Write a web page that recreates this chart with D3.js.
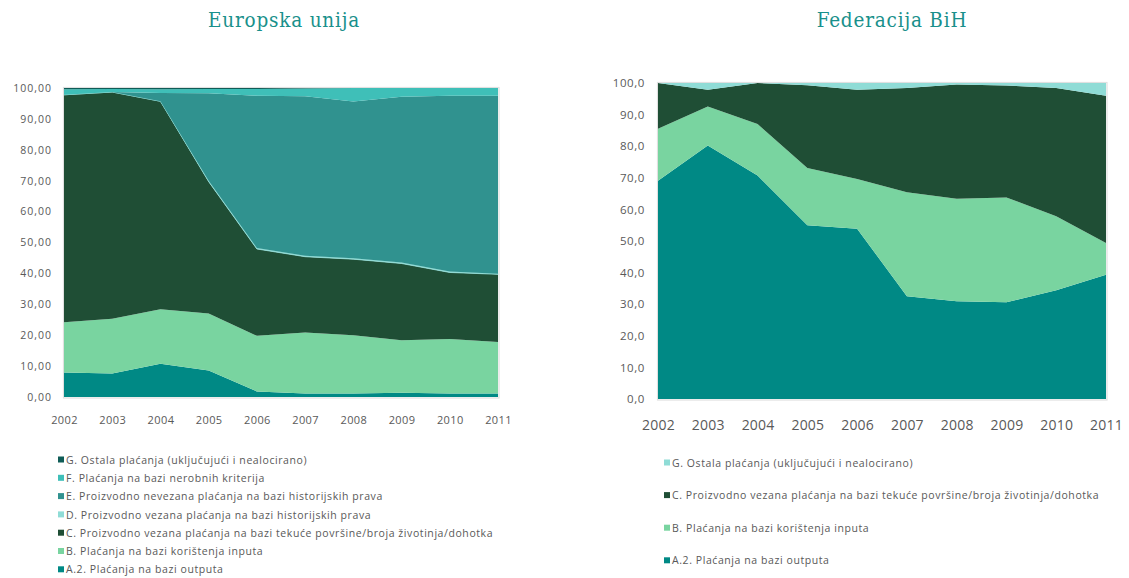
<!DOCTYPE html>
<html>
<head>
<meta charset="utf-8">
<script src="https://cdn.jsdelivr.net/npm/d3@7"></script>
<style>
  body { margin: 0; background: #ffffff; }
  .title { font-family: "DejaVu Serif Condensed", "DejaVu Serif", serif; font-stretch: condensed; font-size: 20.5px; letter-spacing: 0.8px; fill: #19908b; }
  .tick text { font-family: "Open Sans", sans-serif; fill: #595959; }
  .legend { font-family: "Open Sans", sans-serif; font-size: 10.5px; fill: #595959; }
</style>
</head>
<body>
<div id="vis"></div>
<script>
const frame_width = 1129;
const frame_height = 578;

const years = [2002, 2003, 2004, 2005, 2006, 2007, 2008, 2009, 2010, 2011];

// Europska unija, shares in %
const eu_a2 = [7.9, 7.6, 10.8, 8.6, 1.8, 1.1, 1.1, 1.4, 1.1, 1.1];
const eu_b = [16.3, 17.7, 17.6, 18.4, 18.0, 19.8, 18.9, 17.0, 17.7, 16.7];
const eu_c = [73.6, 73.4, 67.3, 42.7, 28.1, 24.5, 24.6, 24.8, 21.5, 21.9];
const eu_d = [0, 0, 0, 0.3, 0.3, 0.3, 0.3, 0.3, 0.3, 0.2];
const eu_e = [0, 0, 2.7, 28.3, 49.3, 51.6, 50.7, 53.7, 56.9, 57.6];
const eu_f = [1.8, 1.0, 1.2, 1.4, 2.2, 2.5, 4.4, 2.8, 2.5, 2.5];
const eu_g = [0.4, 0.3, 0.4, 0.3, 0.3, 0.2, 0, 0, 0, 0];

// Federacija BiH, shares in %
const fbih_a2 = [69.1, 80.2, 70.7, 55.0, 53.9, 32.5, 30.9, 30.6, 34.4, 39.3];
const fbih_b = [16.4, 12.4, 16.3, 18.1, 15.7, 32.9, 32.5, 33.2, 23.4, 10.1];
const fbih_c = [14.5, 5.3, 13.0, 26.2, 28.3, 33.0, 36.1, 35.4, 40.6, 46.6];
const fbih_g = [0, 2.1, 0, 0.7, 2.1, 1.6, 0.5, 0.8, 1.6, 4.0];

const y_ticks = [0, 10, 20, 30, 40, 50, 60, 70, 80, 90, 100];

const series_names = {
    g: "G. Ostala plaćanja (uključujući i nealocirano)",
    f: "F. Plaćanja na bazi nerobnih kriterija",
    e: "E. Proizvodno nevezana plaćanja na bazi historijskih prava",
    d: "D. Proizvodno vezana plaćanja na bazi historijskih prava",
    c: "C. Proizvodno vezana plaćanja na bazi tekuće površine/broja životinja/dohotka",
    b: "B. Plaćanja na bazi korištenja inputa",
    a2: "A.2. Plaćanja na bazi outputa"
};

const eu_colors = {a2: "#008985", b: "#79d4a0", c: "#1f4e35", d: "#8fdcd6", e: "#30928f", f: "#3fbfb8", g: "#0f5c57"};
const fbih_colors = {a2: "#008985", b: "#79d4a0", c: "#1f4e35", g: "#8fdcd6"};

const svg = d3.select("#vis")
    .append("svg")
        .attr("width", frame_width)
        .attr("height", frame_height);

// builds rows for d3.stack
function makeRows(cols) {
    return years.map((yr, i) => {
        let row = {year: yr};
        Object.keys(cols).forEach(k => { row[k] = cols[k][i]; });
        return row;
    });
}

function drawChart(opts) {
    const X_SCALE = d3.scaleLinear()
        .domain([years[0], years[years.length - 1]])
        .range([opts.left, opts.right]);

    const Y_SCALE = d3.scaleLinear()
        .domain([0, 100])
        .range([opts.bottom, opts.top]);

    const rows = makeRows(opts.cols);
    const stacked = d3.stack().keys(Object.keys(opts.cols))(rows);

    const area = d3.area()
        .x(d => X_SCALE(d.data.year))
        .y0(d => Y_SCALE(d[0]))
        .y1(d => Y_SCALE(d[1]));

    // light frame of the plot area
    svg.append("rect")
        .attr("x", opts.left - 0.5)
        .attr("y", opts.top - 0.5)
        .attr("width", opts.right - opts.left + 1.5)
        .attr("height", opts.bottom - opts.top + 1.5)
        .attr("fill", "none")
        .attr("stroke", "#e0e0e0")
        .attr("stroke-width", 1.2);

    svg.append("g")
        .selectAll("path")
        .data(stacked)
        .enter()
        .append("path")
            .attr("d", area)
            .attr("fill", d => opts.colors[d.key])
            .attr("stroke", d => d.key == "d" ? opts.colors[d.key] : "none")
            .attr("stroke-width", 0.8);

    //y axis
    const yAxis = svg.append("g")
        .attr("transform", "translate(" + (opts.left - opts.yPad) + ",0)")
        .call(d3.axisLeft(Y_SCALE)
            .tickValues(y_ticks)
            .tickSize(0)
            .tickPadding(0)
            .tickFormat(d => d.toFixed(opts.decimals).replace(".", ",")));
    yAxis.select(".domain").remove();
    yAxis.selectAll("text")
        .attr("font-size", opts.yFont + "px")
        .attr("letter-spacing", opts.ySpacing + "px");

    //x axis
    const xAxis = svg.append("g")
        .attr("transform", "translate(0," + opts.bottom + ")")
        .call(d3.axisBottom(X_SCALE)
            .tickValues(years)
            .tickSize(0)
            .tickPadding(opts.xPad)
            .tickFormat(d3.format("d")));
    xAxis.select(".domain").remove();
    xAxis.selectAll("text")
        .attr("font-size", opts.xFont + "px")
        .attr("letter-spacing", opts.xSpacing + "px");

    svg.append("text")
        .attr("class", "title")
        .attr("x", opts.titleX)
        .attr("y", 27)
        .attr("text-anchor", "middle")
        .text(opts.title);

    // legend, top entry is the top series
    const keys = Object.keys(opts.cols).reverse();
    const legend = svg.append("g")
        .selectAll("g")
        .data(keys)
        .enter()
        .append("g")
            .attr("transform", (d, i) => "translate(" + opts.legendX + "," + (opts.legendY + i * opts.legendStep) + ")");
    legend.append("rect")
        .attr("x", 0)
        .attr("y", -3.5)
        .attr("width", 6)
        .attr("height", 6)
        .attr("fill", d => opts.colors[d]);
    legend.append("text")
        .attr("class", "legend")
        .attr("x", 8)
        .attr("y", 0)
        .attr("dy", "0.35em")
        .attr("letter-spacing", opts.legendSpacing + "px")
        .text(d => series_names[d]);
}

drawChart({
    title: "Europska unija",
    titleX: 284,
    left: 64, right: 498, top: 88, bottom: 397,
    cols: {a2: eu_a2, b: eu_b, c: eu_c, d: eu_d, e: eu_e, f: eu_f, g: eu_g},
    colors: eu_colors,
    decimals: 2,
    yPad: 12, yFont: 10.5, ySpacing: 1,
    xPad: 19, xFont: 11, xSpacing: 0.4,
    legendX: 58, legendY: 460, legendStep: 18.3, legendSpacing: 0.58
});

drawChart({
    title: "Federacija BiH",
    titleX: 892,
    left: 658, right: 1106, top: 83, bottom: 399,
    cols: {a2: fbih_a2, b: fbih_b, c: fbih_c, g: fbih_g},
    colors: fbih_colors,
    decimals: 1,
    yPad: 13, yFont: 11.5, ySpacing: 0.6,
    xPad: 21, xFont: 14, xSpacing: 0.2,
    legendX: 664, legendY: 463, legendStep: 32.6, legendSpacing: 0.58
});
</script>
</body>
</html>
